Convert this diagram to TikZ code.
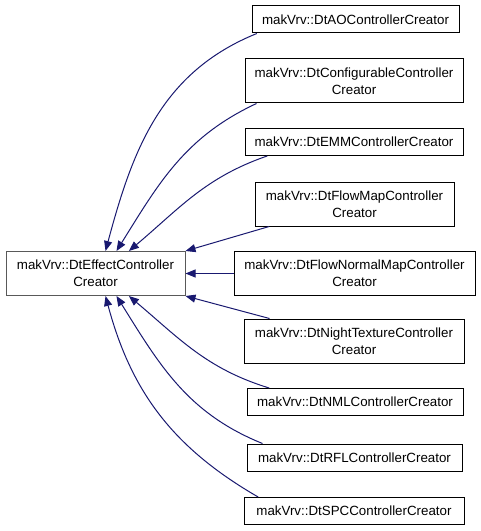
\documentclass[tikz,border=0pt]{standalone}
\usepackage{fontspec}
\setmainfont{Liberation Sans}
\usetikzlibrary{arrows.meta}
\definecolor{edgeblue}{RGB}{25,25,112}

\begin{document}
\begin{tikzpicture}[x=0.75pt, y=0.75pt,
  class/.style={draw=black, line width=0.75pt, fill=white, align=center, inner sep=0pt,
    font=\fontsize{10}{12.75}\selectfont},
  one_line/.style={class, minimum height=20.25pt},
  two_line/.style={class, minimum height=33pt},
  edge/.style={{Triangle[length=7.5pt,width=6pt]}-, draw=edgeblue, line width=0.75pt}]

\useasboundingbox (0,0) rectangle (480,-531);

\node[two_line, draw=black!65, minimum width=134.25pt] (effect_creator) at (95.5, -273.5) {makVrv::DtEffectController\\Creator};

\node[one_line, minimum width=155.25pt] (ao_creator) at (355.5, -19.5) {makVrv::DtAOControllerCreator};
\node[two_line, minimum width=163.5pt] (config_creator) at (354, -81) {makVrv::DtConfigurableController\\Creator};
\node[one_line, minimum width=163.5pt] (emm_creator) at (354, -142) {makVrv::DtEMMControllerCreator};
\node[two_line, minimum width=149.25pt] (flowmap_creator) at (354.5, -204) {makVrv::DtFlowMapController\\Creator};
\node[two_line, minimum width=180.75pt] (flownormal_creator) at (354.5, -273.5) {makVrv::DtFlowNormalMapController\\Creator};
\node[two_line, minimum width=165pt] (night_creator) at (354, -341) {makVrv::DtNightTextureController\\Creator};
\node[one_line, minimum width=162pt] (nml_creator) at (355, -402) {makVrv::DtNMLControllerCreator};
\node[one_line, minimum width=161.25pt] (rfl_creator) at (354.5, -457.5) {makVrv::DtRFLControllerCreator};
\node[one_line, minimum width=165pt] (spc_creator) at (354, -511) {makVrv::DtSPCControllerCreator};

\draw[edge] (effect_creator.66) to[out=75, in=202] ([xshift=4pt]ao_creator.south west);
\draw[edge] (effect_creator.47) to[out=58, in=205] ([xshift=9pt]config_creator.south west);
\draw[edge] (effect_creator.34) to[out=40, in=199] ([xshift=17pt]emm_creator.south west);
\draw[edge] (effect_creator.north east) -- ([xshift=11pt]flowmap_creator.south west);
\draw[edge] (effect_creator.east) -- (flownormal_creator.west);
\draw[edge] (effect_creator.south east) -- ([xshift=19.5pt]night_creator.north west);
\draw[edge] (effect_creator.-34) to[out=-40, in=163] ([xshift=17pt]nml_creator.north west);
\draw[edge] (effect_creator.-47) to[out=-58, in=158] ([xshift=12pt]rfl_creator.north west);
\draw[edge] (effect_creator.-66) to[out=-75, in=150] ([xshift=11pt]spc_creator.north west);

\end{tikzpicture}
\end{document}
